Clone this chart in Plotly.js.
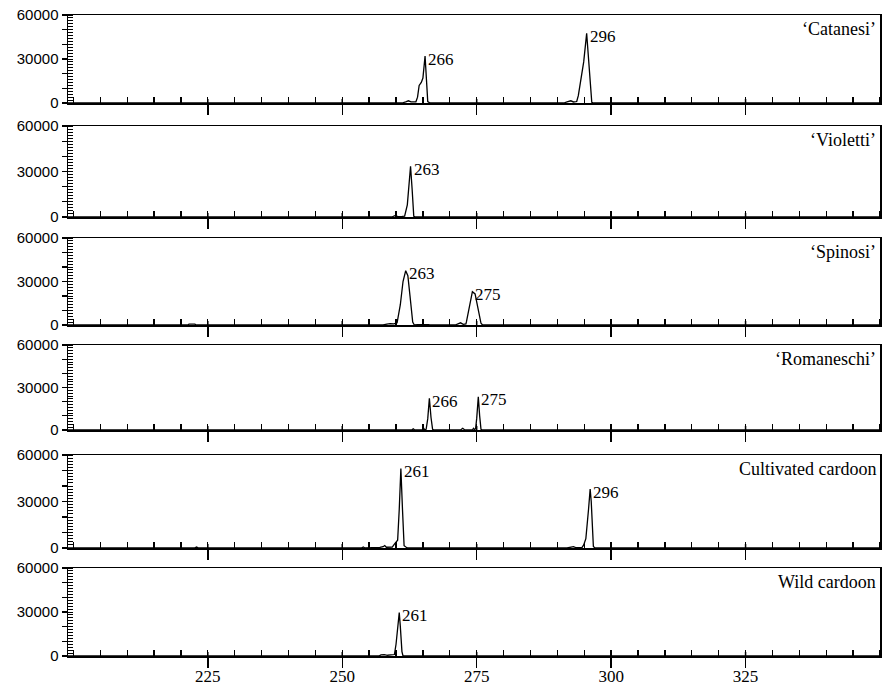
<!DOCTYPE html>
<html>
<head>
<meta charset="utf-8">
<script src="https://cdn.plot.ly/plotly-3.0.1.min.js"></script>
<style>html,body{margin:0;padding:0;background:#fff;}#chart{width:886px;height:688px;}</style>
</head>
<body>
<div id="chart"></div>
<script>
// ---- data (fragment size in bp vs. fluorescence signal) ----
const panelNames = ["\u2018Catanesi\u2019", "\u2018Violetti\u2019", "\u2018Spinosi\u2019", "\u2018Romaneschi\u2019", "Cultivated cardoon", "Wild cardoon"];

const catanesiX = [199, 261.1, 261.8, 262.3, 262.8, 263.7, 264.0, 264.3, 264.7, 265.0, 265.4, 265.7, 265.9, 266.3,
  291.2, 291.8, 292.5, 293.0, 293.6, 293.9, 294.4, 294.9, 295.45, 295.9, 296.4, 296.8, 350];
const catanesiY = [0, 0, 800, 1500, 700, 800, 4000, 12000, 14000, 17000, 32000, 12000, 1000, 0,
  0, 800, 1500, 700, 1000, 5000, 17000, 28000, 47500, 24000, 500, 0, 0];
const catanesiPeaks = ["266", "296"];

const violettiX = [199, 259.2, 259.8, 260.4, 261.0, 261.6, 262.1, 262.7, 263.0, 263.3, 263.7, 350];
const violettiY = [0, 0, 900, 300, 300, 600, 8000, 33500, 18000, 500, 0, 0];
const violettiPeaks = ["263"];

const spinosiX = [199, 221.3, 221.5, 222.6, 222.8, 257.6, 258.3, 258.9, 259.6, 260.2, 260.8, 261.3, 261.8, 262.2, 262.6, 263.1, 263.4, 264.0, 266.0, 266.3,
  271.0, 271.5, 272.0, 272.5, 273.0, 273.1, 273.6, 274.1, 274.2, 274.7, 275.2, 275.8, 276.1, 350];
const spinosiY = [0, 0, 600, 600, 0, 0, 600, 1000, 800, 1500, 14000, 30000, 37500, 34000, 20000, 2000, 0, 300, 300, 0,
  0, 1000, 1500, 500, 800, 2300, 12600, 22300, 23000, 21400, 12600, 1200, 0, 0];
const spinosiPeaks = ["263", "275"];

const romaneschiX = [199, 262.9, 263.2, 263.5, 264.9, 265.1, 265.3, 265.6, 265.9, 266.2, 266.5, 266.8, 267.1,
  272.0, 272.4, 272.8, 274.2, 274.4, 274.6, 274.8, 275.0, 275.3, 275.55, 275.8, 276.1, 350];
const romaneschiY = [0, 0, 800, 0, 0, 1500, 300, 500, 8000, 22400, 9000, 500, 0,
  0, 1200, 0, 0, 1200, 300, 1000, 8000, 23500, 10000, 500, 0, 0];
const romaneschiPeaks = ["266", "275"];

const cultivatedX = [199, 222.5, 222.9, 223.3, 253.6, 253.9, 254.2, 256.6, 257.0, 257.6, 257.9, 258.2, 258.8, 259.3, 259.7, 260.0,
  260.3, 260.6, 260.9, 261.2, 261.5, 261.9, 262.2,
  291.8, 292.5, 293.0, 293.4, 294.6, 294.9, 295.3, 295.8, 296.1, 296.3, 296.7, 297.0, 350];
const cultivatedY = [0, 0, 600, 0, 0, 700, 0, 0, 400, 800, 1600, 500, 500, 600, 2500, 3500,
  5000, 25000, 51200, 25000, 1500, 500, 0,
  0, 500, 900, 300, 400, 2000, 6000, 25000, 38000, 30000, 1000, 0, 0];
const cultivatedPeaks = ["261", "296"];

const wildX = [199, 256.8, 257.2, 257.8, 258.4, 259.4, 259.7, 260.0, 260.3, 260.6, 260.8, 261.1, 261.3, 350];
const wildY = [0, 0, 700, 900, 500, 600, 1000, 8000, 20000, 29600, 20000, 3000, 0, 0];
const wildPeaks = ["261"];

const xTickVals = [225, 250, 275, 300, 325];
const yTickVals = [0, 10000, 20000, 30000, 40000, 50000, 60000];
const yTickText = ["0", "", "", "30000", "", "", "60000"];

// ---- layout ----
const panels = [
  {x: catanesiX, y: catanesiY, peaks: catanesiPeaks},
  {x: violettiX, y: violettiY, peaks: violettiPeaks},
  {x: spinosiX, y: spinosiY, peaks: spinosiPeaks},
  {x: romaneschiX, y: romaneschiY, peaks: romaneschiPeaks},
  {x: cultivatedX, y: cultivatedY, peaks: cultivatedPeaks},
  {x: wildX, y: wildY, peaks: wildPeaks}
];
const H = 688, mt = 15, mb = 32;
const plotH = H - mt - mb;
const pix = [[15,103],[126,217],[238,325],[345,430],[455,548],[568,656]];
const serif = "Liberation Serif, Times New Roman, serif";
const sans = "Liberation Sans, Arial, sans-serif";

const data = [];
const layout = {
  width: 886, height: 688,
  margin: {l: 68, r: 6, t: mt, b: mb},
  paper_bgcolor: "#fff", plot_bgcolor: "#fff",
  showlegend: false,
  annotations: [],
  shapes: []
};

panels.forEach((p, i) => {
  const n = i + 1;
  const xa = "xaxis" + (n === 1 ? "" : n);
  const ya = "yaxis" + (n === 1 ? "" : n);
  const xr = "x" + (n === 1 ? "" : n);
  const yr = "y" + (n === 1 ? "" : n);
  data.push({
    x: p.x, y: p.y, xaxis: xr, yaxis: yr,
    type: "scatter", mode: "lines",
    line: {color: "#000", width: 1.3},
    hoverinfo: "skip", cliponaxis: false
  });
  const ph = pix[i][1] - pix[i][0];
  const dom = [(H - mb - pix[i][1]) / plotH, (H - mb - pix[i][0]) / plotH];
  layout[xa] = {
    domain: [0, 1], anchor: yr, range: [199, 350],
    showgrid: false, zeroline: false,
    showline: true, mirror: true, linecolor: "#000", linewidth: 1.5,
    tickmode: "array", tickvals: xTickVals,
    ticks: "outside", ticklen: 10, tickwidth: 1.5, tickcolor: "#000",
    showticklabels: n === 6, ticklabelstandoff: -6,
    tickfont: {family: serif, size: 17, color: "#000"},
    minor: {tickmode: "linear", tick0: 0, dtick: 5, ticks: "inside", ticklen: 6, tickwidth: 1.3, tickcolor: "#000", showgrid: false}
  };
  layout[ya] = {
    domain: dom, anchor: xr, range: [0, 60000],
    showgrid: false, zeroline: false,
    showline: true, mirror: true, linecolor: "#000", linewidth: 1.5,
    tickmode: "array", tickvals: yTickVals, ticktext: yTickText,
    ticks: "outside", ticklen: 5, tickwidth: 1.3, tickcolor: "#000",
    tickfont: {family: sans, size: 15, color: "#000"},
    minor: {tickmode: "linear", tick0: 0, dtick: 2000, ticks: "inside", ticklen: 5, tickwidth: 1, tickcolor: "#000", showgrid: false}
  };
  // inner part of the major x ticks (they cross the axis line)
  xTickVals.forEach(v => {
    layout.shapes.push({
      type: "line", xref: xr, yref: yr + " domain",
      x0: v, x1: v, y0: 0, y1: 4 / ph,
      line: {color: "#000", width: 1.5}
    });
  });
  // panel name
  layout.annotations.push({
    xref: xr + " domain", yref: yr + " domain", x: 1, y: 1,
    xanchor: "right", yanchor: "top", xshift: -2, yshift: -2,
    text: panelNames[i], showarrow: false,
    font: {family: serif, size: 18, color: "#000"}
  });
  // peak labels at the local maximum near each allele size
  p.peaks.forEach(lbl => {
    const v = parseFloat(lbl);
    let best = -1;
    p.x.forEach((xx, k) => {
      if (Math.abs(xx - v) <= 2.6 && (best < 0 || p.y[k] > p.y[best])) best = k;
    });
    layout.annotations.push({
      xref: xr, yref: yr, x: p.x[best], y: p.y[best],
      xanchor: "left", yanchor: "middle", xshift: 1, yshift: -3,
      text: lbl, showarrow: false,
      font: {family: serif, size: 17, color: "#000"}
    });
  });
});

Plotly.newPlot("chart", data, layout, {staticPlot: true, displayModeBar: false});
</script>
</body>
</html>
